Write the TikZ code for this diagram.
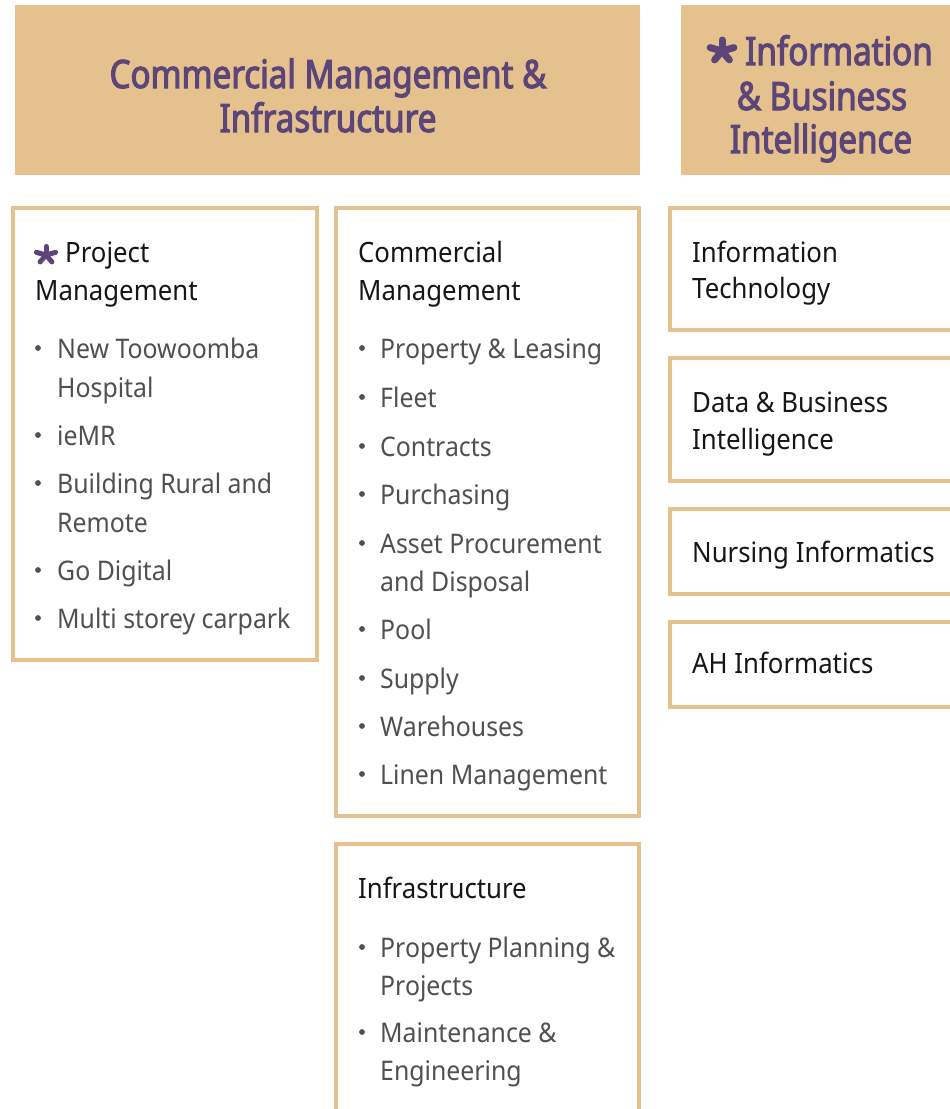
\documentclass[tikz,border=0pt]{standalone}
\usepackage{fontspec}
\setmainfont{Noto Sans}[FakeStretch=0.92]
\newfontfamily\titlefont{Noto Sans}[FakeStretch=0.85, FakeBold=2.8]

\definecolor{tan}{HTML}{E5C18D}
\definecolor{plum}{HTML}{5C4679}
\definecolor{ink}{HTML}{161616}
\definecolor{itemgray}{HTML}{505050}

% five-armed asterisk: centre, horizontal radius, vertical radius, stroke
\newcommand\drawasterisk[4]{%
  \foreach \a in {54,126,198,270,342}
    \draw[plum, line width=#4, line cap=round] #1 -- ++({#2*cos(\a)},{#3*sin(\a)});%
}

\begin{document}
\begin{tikzpicture}[x=1pt, y=-1pt,
  banner/.style={fill=tan, draw=none, anchor=north west, inner sep=0pt, outer sep=0pt},
  panel/.style={draw=tan, line width=3.2pt, fill=white, anchor=north west, inner sep=0pt, outer sep=0pt},
  title/.style={anchor=base, inner sep=0pt, text=plum, font=\titlefont\fontsize{39}{44}\selectfont},
  heading/.style={anchor=base west, inner sep=0pt, text=ink, font=\fontsize{28}{38}\selectfont},
  entry/.style={anchor=base west, inner sep=0pt, text=itemgray, font=\fontsize{27}{38}\selectfont},
  dot/.style={fill=itemgray},
]
\useasboundingbox (0,0) rectangle (950,1109);
\fill[white] (0,0) rectangle (950,1109);
\clip (0,0) rectangle (950,1109);

% header banners
\node[banner, minimum width=625pt, minimum height=170pt] (hdrL) at (15,5) {};
\node[banner, minimum width=290pt, minimum height=170pt] (hdrR) at (681,5) {};

% panels
\node[panel, minimum width=304pt, minimum height=452pt] (pm) at (13,208) {};
\node[panel, minimum width=303pt, minimum height=608pt] (cm) at (336,208) {};
\node[panel, minimum width=303pt, minimum height=290pt] (inf) at (336,844) {};
\node[panel, minimum width=300pt, minimum height=122pt] (it) at (670,208) {};
\node[panel, minimum width=300pt, minimum height=123pt] (dbi) at (670,358) {};
\node[panel, minimum width=300pt, minimum height=85pt] (ni) at (670,509) {};
\node[panel, minimum width=300pt, minimum height=85pt] (ahi) at (670,622) {};

% banner titles
\node[title] (tL1) at (328,88) {Commercial Management \&};
\node[title] (tL2) at (328,132) {Infrastructure};
\coordinate (astR) at (722,51);
\drawasterisk{(astR)}{12.5}{11}{7pt}
\node[title, anchor=base west] (tR1) at (745,65) {Information};
\node[title] (tR2) at (822,110) {\& Business};
\node[title] (tR3) at (821,153) {Intelligence};

% project management
\coordinate (astP) at (46,255);
\drawasterisk{(astP)}{10}{8.5}{5pt}
\node[heading] (pmH1) at (65,262) {Project};
\node[heading] (pmH2) at (35,300) {Management};
\foreach \y in {358,445,493,580,628} \fill[dot] (38,\y-10) circle (2.9);
\node[entry] (pm1a) at (57,358) {New Toowoomba};
\node[entry] (pm1b) at (57,397) {Hospital};
\node[entry] (pm2) at (57,445) {ieMR};
\node[entry] (pm3a) at (57,493) {Building Rural and};
\node[entry] (pm3b) at (57,532) {Remote};
\node[entry] (pm4) at (57,580) {Go Digital};
\node[entry] (pm5) at (57,628) {Multi storey carpark};

% commercial management
\node[heading] (cmH1) at (358,262) {Commercial};
\node[heading] (cmH2) at (358,300) {Management};
\foreach \y in {358,407,456,504,553,639,688,736,784} \fill[dot] (362,\y-10) circle (2.9);
\node[entry] (cm1) at (380,358) {Property \& Leasing};
\node[entry] (cm2) at (380,407) {Fleet};
\node[entry] (cm3) at (380,456) {Contracts};
\node[entry] (cm4) at (380,504) {Purchasing};
\node[entry] (cm5a) at (380,553) {Asset Procurement};
\node[entry] (cm5b) at (380,591) {and Disposal};
\node[entry] (cm6) at (380,639) {Pool};
\node[entry] (cm7) at (380,688) {Supply};
\node[entry] (cm8) at (380,736) {Warehouses};
\node[entry] (cm9) at (380,784) {Linen Management};

% infrastructure
\node[heading] (infH) at (358,898) {Infrastructure};
\foreach \y in {957,1042} \fill[dot] (362,\y-10) circle (2.9);
\node[entry] (inf1a) at (380,957) {Property Planning \&};
\node[entry] (inf1b) at (380,995) {Projects};
\node[entry] (inf2a) at (380,1042) {Maintenance \&};
\node[entry] (inf2b) at (380,1080) {Engineering};

% information & business intelligence
\node[heading] (itH1) at (692,262) {Information};
\node[heading] (itH2) at (692,298) {Technology};
\node[heading] (dbiH1) at (692,412) {Data \& Business};
\node[heading] (dbiH2) at (692,449) {Intelligence};
\node[heading] (niH) at (692,562) {Nursing Informatics};
\node[heading] (ahiH) at (692,673) {AH Informatics};
\end{tikzpicture}
\end{document}
